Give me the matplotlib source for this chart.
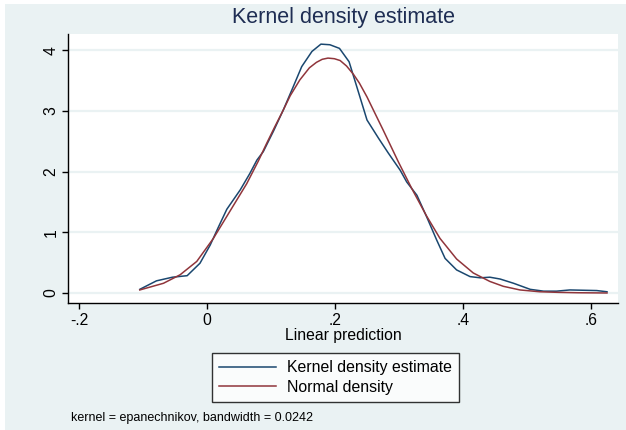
import matplotlib.pyplot as plt
from matplotlib.patches import Rectangle

plt.rcParams['font.family'] = ['Liberation Sans', 'DejaVu Sans']

# valores
kde_x = [-0.105, -0.079, -0.054, -0.031, -0.011, 0.005, 0.018, 0.031, 0.052, 0.067,
         0.078, 0.088, 0.104, 0.119, 0.134, 0.148, 0.164, 0.178, 0.192, 0.207,
         0.222, 0.234, 0.250, 0.268, 0.283, 0.302, 0.312, 0.328, 0.343, 0.359,
         0.372, 0.390, 0.411, 0.427, 0.442, 0.458, 0.479, 0.505, 0.526, 0.546,
         0.567, 0.588, 0.609, 0.625]
kde_y = [0.06, 0.20, 0.26, 0.285, 0.49, 0.79, 1.09, 1.38, 1.70, 1.97,
         2.19, 2.33, 2.67, 3.01, 3.38, 3.73, 3.98, 4.10, 4.09, 4.03,
         3.81, 3.40, 2.85, 2.55, 2.31, 2.02, 1.83, 1.61, 1.26, 0.87,
         0.57, 0.38, 0.27, 0.25, 0.26, 0.23, 0.16, 0.06, 0.03, 0.03,
         0.05, 0.045, 0.04, 0.02]

norm_x = [-0.105, -0.068, -0.042, -0.016, 0.010, 0.036, 0.062, 0.080, 0.093, 0.106,
          0.119, 0.130, 0.145, 0.160, 0.171, 0.180, 0.189, 0.199, 0.208, 0.218,
          0.229, 0.238, 0.250, 0.262, 0.275, 0.299, 0.320, 0.343, 0.364, 0.390,
          0.416, 0.442, 0.463, 0.489, 0.520, 0.550, 0.580, 0.625]
norm_y = [0.05, 0.16, 0.30, 0.52, 0.90, 1.35, 1.80, 2.17, 2.46, 2.74,
          3.01, 3.25, 3.51, 3.71, 3.80, 3.85, 3.87, 3.86, 3.83, 3.74,
          3.60, 3.46, 3.23, 2.97, 2.69, 2.16, 1.72, 1.27, 0.90, 0.56,
          0.33, 0.19, 0.11, 0.05, 0.02, 0.01, 0.004, 0.0]

x_ticks = [-0.2, 0, 0.2, 0.4, 0.6]
x_tick_labels = ['-.2', '0', '.2', '.4', '.6']
y_ticks = [0, 1, 2, 3, 4]

azul = '#1a476f'
vermelho = '#90353b'
fundo = '#eaf2f3'

fig = plt.figure(figsize=(6.26, 4.30), dpi=100)
fig.patch.set_facecolor('white')
fig.patches.append(Rectangle((5 / 626, 0), 1 - 5 / 626, 1 - 4 / 430,
                             transform=fig.transFigure, facecolor=fundo,
                             edgecolor='none', zorder=-10))

ax = fig.add_axes([68 / 626, 1 - 303 / 430, 550 / 626, 269 / 430])
ax.set_facecolor('white')

ax.plot(kde_x, kde_y, color=azul, lw=1.1, label='Kernel density estimate')
ax.plot(norm_x, norm_y, color=vermelho, lw=1.1, label='Normal density')

ax.set_xlim(-0.2172, 0.6422)
ax.set_ylim(-0.165, 4.267)
ax.set_xticks(x_ticks)
ax.set_xticklabels(x_tick_labels)
ax.set_yticks(y_ticks)
ax.set_yticklabels([str(v) for v in y_ticks], rotation=90, va='center')

for v in y_ticks:
    ax.axhline(v, color=fundo, lw=1.6, zorder=0)

for lado in ['top', 'right']:
    ax.spines[lado].set_visible(False)
for lado in ['left', 'bottom']:
    ax.spines[lado].set_color('black')
    ax.spines[lado].set_linewidth(1.0)

ax.tick_params(axis='both', direction='out', length=4, width=1.0,
               labelsize=11.3, colors='black', pad=3)
ax.set_xlabel('Linear prediction', fontsize=11.3, labelpad=0)

fig.text(343 / 626, 1 - 18 / 430, 'Kernel density estimate', fontsize=15.5,
         color='#1e2d53', ha='center', va='center')

leg = fig.legend(loc='center', bbox_to_anchor=(335.5 / 626, 1 - 377.5 / 430),
                 fontsize=11.4, frameon=True, fancybox=False, edgecolor='black',
                 handlelength=3.6, handletextpad=0.7, borderpad=0.45,
                 labelspacing=0.3)
leg.get_frame().set_linewidth(1.0)
leg.get_frame().set_facecolor('white')

fig.text(71 / 626, 1 - 418 / 430, 'kernel = epanechnikov, bandwidth = 0.0242',
         fontsize=9.0, ha='left', va='center')

plt.savefig('out.png', dpi=100)
plt.close()
